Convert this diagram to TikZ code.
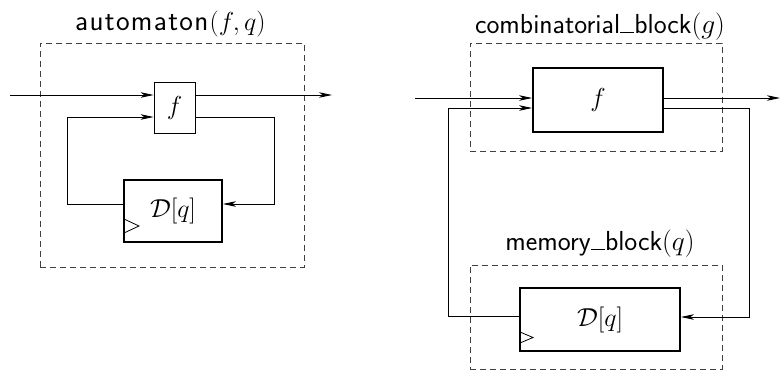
\documentclass[tikz,border=0pt]{standalone}
\usepackage{fix-cm}
\usepackage{fontspec}
\usetikzlibrary{arrows.meta}
\newcommand{\mybar}{\rule{0.52em}{0.05em}}
\newcommand{\lsp}{\kern1.3pt}
\begin{document}
\begin{tikzpicture}[x=1pt,y=-1pt,
  wire/.style={line width=0.8pt},
  sig/.style={wire,-{Stealth[length=13pt,width=5.5pt,inset=3.5pt]}},
  blk/.style={draw,line width=1.8pt,inner sep=0pt,font=\fontsize{26}{30}\selectfont},
  thinblk/.style={draw,line width=0.8pt,inner sep=0pt,font=\fontsize{26}{30}\selectfont},
  frame/.style={draw=black!75,dash pattern=on 6pt off 4pt,line width=0.7pt,inner sep=0pt},
  lbl/.style={font=\fontsize{27.5}{32}\selectfont\sffamily,anchor=base,inner sep=0pt}]
\useasboundingbox (0,0) rectangle (780,370);
% ---- left: automaton
\node[frame,minimum width=264pt,minimum height=224pt] (frA) at (172,155) {};
\node[lbl,anchor=base west] (tA) at (75,30) {{\fontsize{29}{32}\selectfont a\lsp u\lsp t\lsp o\lsp m\lsp a\lsp t\lsp o\lsp n}\lsp{\fontsize{26}{30}\selectfont$(f,q)$}};
\node[thinblk,minimum width=41pt,minimum height=51pt] (fA) at (174.5,107.5) {$f$};
\node[blk,minimum width=98pt,minimum height=62pt] (DA) at (173,211) {$\mathcal{D}[q]$};
\coordinate (inA) at (10,95);
\coordinate (outA) at (332,95);
\coordinate (rA) at (274,117);
\coordinate (lA) at (67,117);
\coordinate (yA) at (0,204);
\draw[sig] (inA) -- (inA -| fA.west);
\draw[sig] (inA -| fA.east) -- (outA);
\draw[sig] (fA.east |- rA) -- (rA) |- (DA.east |- yA);
\draw[sig] (DA.west |- yA) -- (lA |- yA) |- (fA.west |- lA);
\draw[wire] (124,219) -- (139,226) -- (124,233);
% ---- right: combinatorial + memory
\node[frame,minimum width=252pt,minimum height=108pt] (frB) at (596,97) {};
\node[lbl] (tB) at (600,33) {combinatorial\mybar block$(g)$};
\node[blk,minimum width=130pt,minimum height=64pt] (fB) at (598,100) {$f$};
\node[frame,minimum width=252pt,minimum height=104pt] (frC) at (596,317) {};
\node[lbl] (tC) at (600,250) {memory\mybar block$(q)$};
\node[blk,minimum width=160pt,minimum height=63pt] (DB) at (600,319.5) {$\mathcal{D}[q]$};
\coordinate (inB) at (415,98);
\coordinate (outB) at (780,98);
\coordinate (rB) at (749,108);
\coordinate (lB) at (448,108);
\coordinate (yB1) at (0,316);
\coordinate (yB2) at (0,317);
\draw[sig] (inB) -- (inB -| fB.west);
\draw[sig] (inB -| fB.east) -- (outB);
\draw[sig] (fB.east |- rB) -- (rB) |- (DB.east |- yB2);
\draw[sig] (DB.west |- yB1) -- (lB |- yB1) |- (fB.west |- lB);
\draw[wire] (520,332) -- (533,337.5) -- (520,343);
\end{tikzpicture}
\end{document}
